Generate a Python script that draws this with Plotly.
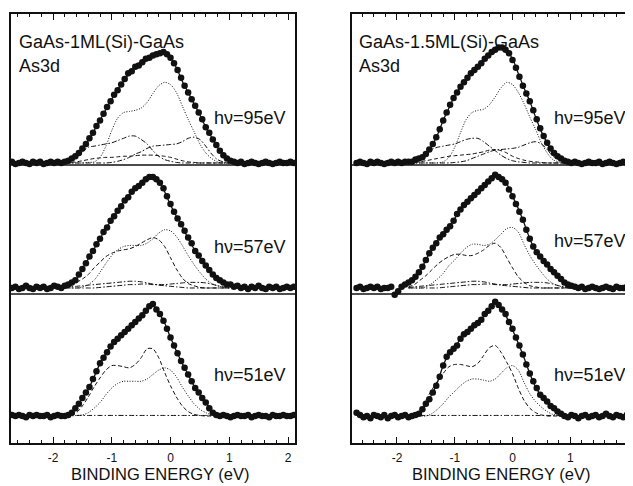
import plotly.graph_objects as go

# ---------------- data ----------------
# energy grids (eV)
E_COMP = [round(-1.8 + 0.1 * i, 1) for i in range(29)]    # fit / component grid
E_DOTS = [round(-2.70 + 0.06 * i, 2) for i in range(81)]  # measured points grid

PANELS = ["GaAs-1ML(Si)-GaAs", "GaAs-1.5ML(Si)-GaAs"]
CORE = "As3d"
PHOTON = ["hν=95eV", "hν=57eV", "hν=51eV"]
TICK_VALS = [-2, -1, 0, 1, 2]
TICK_TEXT = ["-2", "-1", "0", "1", "2"]
X_TITLE = "BINDING ENERGY (eV)"

# ---- left panel, 95 eV ----
L95_dots = [0.01, -0.01, 0.00, 0.01, 0.00, -0.01, 0.01, 0.00, 0.01, -0.01, 0.00, 0.01, 0.00, 0.01, 0.00,
            0.01, 0.02, 0.04, 0.06, 0.09, 0.13, 0.17, 0.22, 0.27, 0.33, 0.38, 0.44, 0.50, 0.55, 0.61, 0.65,
            0.70, 0.75, 0.80, 0.82, 0.86, 0.87, 0.90, 0.93, 0.94, 0.96, 0.97, 0.98, 0.99, 0.97, 0.94, 0.89,
            0.83, 0.76, 0.69, 0.63, 0.57, 0.51, 0.45, 0.39, 0.32, 0.27, 0.21, 0.16, 0.11, 0.07, 0.04, 0.02, 0.01,
            0.00, 0.01, -0.01, 0.00, 0.01, 0.00, -0.01, 0.00, 0.01, 0.00, -0.01, 0.00, 0.01, 0.00, 0.00, 0.01, 0.00]
L95_fit = [0.01, 0.03, 0.07, 0.13, 0.20, 0.29, 0.38, 0.48, 0.57, 0.65, 0.73, 0.80, 0.86, 0.90, 0.93, 0.96,
           0.98, 0.985, 0.94, 0.85, 0.73, 0.63, 0.53, 0.43, 0.32, 0.23, 0.14, 0.07, 0.03]
L95_dotted = [0, 0, 0, 0, 0.005, 0.01, 0.05, 0.15, 0.29, 0.40, 0.45, 0.46, 0.47, 0.49, 0.54, 0.62, 0.69, 0.72,
              0.70, 0.63, 0.51, 0.39, 0.28, 0.17, 0.09, 0.04, 0.01, 0, 0]
L95_dashdot_a = [0, 0.02, 0.06, 0.10, 0.14, 0.15, 0.16, 0.17, 0.18, 0.20, 0.22, 0.24, 0.24, 0.21, 0.17, 0.11,
                 0.06, 0.03, 0.015, 0.005, 0, 0, 0, 0, 0, 0, 0, 0, 0]
L95_dashdot_b = [0, 0, 0, 0, 0, 0, 0, 0, 0.005, 0.015, 0.03, 0.05, 0.08, 0.10, 0.13, 0.15, 0.155, 0.16, 0.165,
                 0.17, 0.19, 0.22, 0.23, 0.21, 0.15, 0.08, 0.03, 0.01, 0]
L95_dashed = [0, 0.005, 0.01, 0.02, 0.03, 0.04, 0.045, 0.05, 0.05, 0.055, 0.06, 0.06, 0.065, 0.07, 0.07, 0.07,
              0.065, 0.06, 0.05, 0.035, 0.02, 0.01, 0.005, 0, 0, 0, 0, 0, 0]

# ---- left panel, 57 eV ----
L57_dots = [0.00, 0.01, -0.01, 0.00, 0.02, 0.00, -0.01, 0.01, 0.00, 0.01, -0.01, 0.00, 0.02, 0.01, 0.00,
            0.02, 0.03, 0.05, 0.07, 0.12, 0.17, 0.22, 0.28, 0.33, 0.39, 0.44, 0.50, 0.54, 0.60, 0.64, 0.69,
            0.73, 0.78, 0.81, 0.86, 0.89, 0.91, 0.94, 0.97, 0.99, 0.99, 0.97, 0.94, 0.89, 0.82, 0.75, 0.68,
            0.62, 0.57, 0.51, 0.45, 0.40, 0.33, 0.29, 0.24, 0.20, 0.16, 0.12, 0.09, 0.07, 0.05, 0.03, 0.03, 0.01,
            0.02, 0.00, 0.01, -0.01, 0.01, 0.00, 0.02, 0.00, -0.01, 0.01, 0.00, 0.01, -0.01, 0.00, 0.01, 0.00, 0.01]
L57_fit = [0.02, 0.04, 0.08, 0.17, 0.26, 0.35, 0.44, 0.53, 0.61, 0.69, 0.77, 0.83, 0.89, 0.93, 0.97, 0.99,
           0.95, 0.86, 0.74, 0.64, 0.55, 0.44, 0.35, 0.27, 0.19, 0.13, 0.08, 0.05, 0.03]
L57_dotted = [0, 0, 0, 0.01, 0.03, 0.07, 0.14, 0.22, 0.29, 0.34, 0.37, 0.38, 0.38, 0.38, 0.40, 0.44, 0.49, 0.52,
              0.51, 0.46, 0.38, 0.29, 0.21, 0.14, 0.08, 0.04, 0.02, 0.005, 0]
L57_dashed = [0.005, 0.02, 0.05, 0.08, 0.12, 0.18, 0.23, 0.28, 0.31, 0.33, 0.34, 0.35, 0.37, 0.40, 0.43, 0.45,
              0.43, 0.37, 0.27, 0.17, 0.09, 0.04, 0.02, 0.005, 0, 0, 0, 0, 0]
L57_dashdot_a = [0, 0.01, 0.015, 0.02, 0.025, 0.03, 0.035, 0.04, 0.045, 0.05, 0.055, 0.06, 0.06, 0.055, 0.045,
                 0.035, 0.025, 0.02, 0.015, 0.01, 0.005, 0, 0, 0, 0, 0, 0, 0, 0]
L57_dashdot_b = [0, 0, 0, 0, 0, 0, 0.005, 0.01, 0.015, 0.02, 0.025, 0.03, 0.03, 0.035, 0.035, 0.03, 0.03, 0.03,
                 0.035, 0.04, 0.045, 0.05, 0.05, 0.05, 0.045, 0.035, 0.02, 0.01, 0]

# ---- left panel, 51 eV ----
L51_dots = [0.01, 0.00, 0.01, 0.00, -0.01, 0.01, 0.00, 0.01, 0.00, 0.00, 0.01, -0.01, 0.00, 0.01, 0.00,
            0.00, 0.01, 0.03, 0.07, 0.11, 0.16, 0.21, 0.26, 0.33, 0.40, 0.47, 0.52, 0.57, 0.62, 0.66, 0.69,
            0.72, 0.75, 0.78, 0.81, 0.84, 0.87, 0.90, 0.94, 0.98, 1.00, 0.95, 0.91, 0.85, 0.78, 0.70, 0.63,
            0.56, 0.49, 0.43, 0.37, 0.31, 0.25, 0.21, 0.16, 0.12, 0.07, 0.03, 0.01,
            0.00, 0.01, 0.00, -0.01, 0.00, 0.01, 0.00, 0.00, 0.01, -0.01, 0.00, 0.01, 0.00, 0.00, -0.01, 0.01,
            0.00, 0.00, 0.01, 0.00, 0.00, 0.01]
L51_fit = [0.0, 0.02, 0.08, 0.16, 0.24, 0.35, 0.47, 0.56, 0.63, 0.69, 0.74, 0.79, 0.84, 0.89, 0.95, 0.99,
           0.92, 0.83, 0.70, 0.58, 0.47, 0.37, 0.27, 0.19, 0.12, 0.05, 0.01, 0, 0]
L51_dashed = [0, 0.005, 0.03, 0.09, 0.17, 0.26, 0.34, 0.41, 0.45, 0.45, 0.44, 0.43, 0.46, 0.52, 0.60, 0.60,
              0.52, 0.39, 0.27, 0.17, 0.09, 0.04, 0.015, 0.005, 0, 0, 0, 0, 0]
L51_dotted = [0, 0, 0.005, 0.01, 0.03, 0.07, 0.12, 0.19, 0.25, 0.29, 0.31, 0.31, 0.31, 0.31, 0.33, 0.37, 0.41,
              0.43, 0.41, 0.35, 0.26, 0.18, 0.11, 0.06, 0.03, 0.01, 0, 0, 0]
L51_dashdot = [None, None, 0.005, 0.005, 0.005, 0.005, 0.005, 0.005, 0.005, 0.005, 0.005, 0.005, 0.005, 0.005,
               0.005, 0.005, 0.005, 0.005, 0.005, 0.005, 0.005, 0.005, 0.005, 0.005, 0.005, 0.005, None, None, None]

# ---- right panel, 95 eV ----
R95_dots = [0.00, 0.01, 0.00, -0.01, 0.01, 0.00, 0.01, 0.00, -0.01, 0.00, 0.01, 0.00, 0.01, 0.00, 0.01,
            0.01, 0.01, 0.03, 0.04, 0.05, 0.08, 0.12, 0.17, 0.23, 0.30, 0.38, 0.45, 0.52, 0.58, 0.63, 0.68,
            0.72, 0.76, 0.80, 0.83, 0.86, 0.89, 0.93, 0.96, 0.99, 1.01, 1.03, 1.03, 1.01, 0.98, 0.92, 0.85,
            0.77, 0.69, 0.62, 0.55, 0.47, 0.39, 0.31, 0.24, 0.18, 0.13, 0.09, 0.06, 0.04, 0.02, 0.01,
            0.00, 0.01, 0.00, -0.01, 0.00, 0.01, 0.00, 0.00, 0.01, -0.01, 0.00, 0.01, 0.00, -0.01, 0.00, 0.01,
            0.00, 0.00, 0.01]
R95_fit = [0.01, 0.02, 0.04, 0.08, 0.15, 0.25, 0.38, 0.49, 0.60, 0.68, 0.75, 0.81, 0.86, 0.92, 0.97, 1.01,
           1.03, 1.00, 0.93, 0.80, 0.67, 0.55, 0.41, 0.28, 0.18, 0.10, 0.05, 0.02, 0.01]
R95_dotted = [0, 0, 0, 0, 0, 0, 0.01, 0.05, 0.14, 0.27, 0.39, 0.45, 0.47, 0.48, 0.52, 0.59, 0.67, 0.72, 0.70,
              0.63, 0.53, 0.41, 0.30, 0.18, 0.09, 0.03, 0.01, 0, 0]
R95_dashdot_a = [0, 0.01, 0.03, 0.07, 0.12, 0.14, 0.15, 0.16, 0.17, 0.19, 0.21, 0.22, 0.22, 0.19, 0.15, 0.11,
                 0.07, 0.04, 0.02, 0.01, 0.005, 0, 0, 0, 0, 0, 0, 0, 0]
R95_dashdot_b = [0, 0, 0, 0, 0, 0, 0, 0, 0.005, 0.01, 0.02, 0.04, 0.06, 0.08, 0.10, 0.115, 0.12, 0.125, 0.13,
                 0.14, 0.16, 0.18, 0.19, 0.17, 0.12, 0.06, 0.03, 0.01, 0]
R95_dashed = [0, 0.005, 0.01, 0.02, 0.03, 0.04, 0.05, 0.06, 0.065, 0.07, 0.075, 0.08, 0.09, 0.10, 0.115, 0.12,
              0.11, 0.09, 0.06, 0.04, 0.025, 0.015, 0.01, 0.005, 0, 0, 0, 0, 0]

# ---- right panel, 57 eV ----
R57_dots = [0.00, 0.01, -0.01, 0.00, 0.01, 0.00, 0.01, -0.01, 0.00, 0.00, 0.01, -0.06, -0.03, 0.01, 0.03,
            0.05, 0.07, 0.10, 0.14, 0.19, 0.25, 0.31, 0.36, 0.40, 0.45, 0.48, 0.52, 0.55, 0.60, 0.66, 0.70,
            0.74, 0.77, 0.80, 0.83, 0.86, 0.89, 0.92, 0.95, 0.98, 1.01, 0.99, 0.97, 0.94, 0.88, 0.82, 0.75,
            0.68, 0.61, 0.52, 0.44, 0.37, 0.32, 0.28, 0.24, 0.21, 0.17, 0.14, 0.11, 0.08, 0.05, 0.03, 0.02,
            0.01, 0.00, 0.01, -0.01, 0.00, 0.01, 0.00, -0.01, 0.00, 0.01, 0.00, -0.01, 0.01, 0.00, 0.00, 0.01,
            -0.01, 0.00]
R57_fit = [0.05, 0.09, 0.15, 0.25, 0.34, 0.42, 0.48, 0.54, 0.62, 0.70, 0.76, 0.81, 0.86, 0.91, 0.96, 1.00,
           0.98, 0.93, 0.82, 0.71, 0.58, 0.44, 0.33, 0.26, 0.21, 0.15, 0.10, 0.06, 0.03]
R57_dotted = [0, 0, 0, 0.01, 0.04, 0.08, 0.13, 0.20, 0.25, 0.31, 0.36, 0.39, 0.39, 0.38, 0.39, 0.43, 0.48, 0.53,
              0.54, 0.50, 0.39, 0.29, 0.21, 0.14, 0.08, 0.04, 0.02, 0.005, 0]
R57_dashed = [0.01, 0.03, 0.07, 0.11, 0.16, 0.21, 0.25, 0.28, 0.30, 0.30, 0.29, 0.29, 0.31, 0.34, 0.38, 0.40,
              0.36, 0.27, 0.18, 0.10, 0.05, 0.02, 0.01, 0, 0, 0, 0, 0, 0]
R57_dashdot_a = [0.005, 0.01, 0.015, 0.02, 0.025, 0.03, 0.035, 0.04, 0.045, 0.05, 0.055, 0.06, 0.06, 0.055,
                 0.045, 0.035, 0.025, 0.02, 0.015, 0.01, 0.005, 0, 0, 0, 0, 0, 0, 0, 0]
R57_dashdot_b = [0, 0, 0, 0, 0, 0, 0.005, 0.01, 0.015, 0.02, 0.025, 0.03, 0.03, 0.035, 0.035, 0.03, 0.03, 0.03,
                 0.035, 0.04, 0.045, 0.05, 0.05, 0.05, 0.045, 0.035, 0.02, 0.01, 0]

# ---- right panel, 51 eV ----
R51_dots = [0.03, 0.01, -0.01, 0.00, -0.02, 0.01, 0.00, -0.01, 0.01, -0.02, 0.00, 0.01, -0.01, 0.00, 0.01,
            -0.01, 0.00, 0.01, 0.02, 0.06, 0.11, 0.15, 0.21, 0.27, 0.35, 0.45, 0.53, 0.57, 0.60, 0.63, 0.69,
            0.73, 0.75, 0.78, 0.81, 0.83, 0.86, 0.91, 0.94, 0.98, 1.02, 0.99, 0.95, 0.91, 0.84, 0.78, 0.70,
            0.63, 0.55, 0.46, 0.38, 0.31, 0.25, 0.19, 0.16, 0.13, 0.09, 0.07, 0.04, 0.02, 0.00,
            -0.01, 0.01, 0.00, -0.02, 0.00, 0.01, -0.01, 0.00, 0.01, -0.01, 0.00, 0.02, 0.00, -0.01, 0.01, 0.00,
            -0.01, 0.01, 0.00, 0.01]
R51_fit = [0, 0, 0.02, 0.11, 0.19, 0.30, 0.45, 0.56, 0.61, 0.69, 0.75, 0.79, 0.83, 0.89, 0.96, 1.01, 0.96,
           0.88, 0.77, 0.65, 0.52, 0.38, 0.26, 0.18, 0.12, 0.07, 0.03, 0.01, 0]
R51_dashed = [0, 0, 0.03, 0.14, 0.23, 0.31, 0.38, 0.44, 0.46, 0.46, 0.45, 0.44, 0.47, 0.54, 0.61, 0.63, 0.57,
              0.48, 0.38, 0.25, 0.14, 0.07, 0.03, 0.01, 0, 0, 0, 0, 0]
R51_dotted = [0, 0, 0, 0, 0.02, 0.06, 0.11, 0.17, 0.22, 0.27, 0.31, 0.33, 0.33, 0.32, 0.31, 0.33, 0.38, 0.43,
              0.45, 0.41, 0.30, 0.20, 0.13, 0.08, 0.04, 0.015, 0.005, 0, 0]
R51_dashdot = [None, None, 0.005, 0.005, 0.005, 0.005, 0.005, 0.005, 0.005, 0.005, 0.005, 0.005, 0.005, 0.005,
               0.005, 0.005, 0.005, 0.005, 0.005, 0.005, 0.005, 0.005, 0.005, 0.005, 0.005, 0.005, 0.005,
               None, None]

# ---------------- layout constants (styles / positions) ----------------
# the page body keeps an 8 px margin, so the figure is drawn 8 px smaller and
# every target pixel position is converted with that offset
PAGE_W, PAGE_H, BODY = 633, 486, 8
W, H = PAGE_W - BODY, PAGE_H - BODY
FONT = "Liberation Sans, Arial, Helvetica, sans-serif"
INK = "#111111"
OFFSET = {"95": 2.5, "57": 1.384, "51": 0.241}   # vertical stacking of the spectra
SEPARATORS = [2.482, 1.330]
YMAX = 3.83

def fx(x):
    return (x - BODY) / W

def fy(y):
    return 1 - (y - BODY) / H

STYLE = {
    "dotted": dict(dash="1px,1.6px", width=1.0),
    "dashed": dict(dash="4px,2.5px", width=1.0),
    "dashdot": dict(dash="5px,2px,1.5px,2px", width=1.0),
}

spectra = {
    "L": [
        ("95", L95_dots, L95_fit, [("dotted", L95_dotted), ("dashdot", L95_dashdot_a),
                                   ("dashdot", L95_dashdot_b), ("dashed", L95_dashed)]),
        ("57", L57_dots, L57_fit, [("dotted", L57_dotted), ("dashed", L57_dashed),
                                   ("dashdot", L57_dashdot_a), ("dashdot", L57_dashdot_b)]),
        ("51", L51_dots, L51_fit, [("dashed", L51_dashed), ("dotted", L51_dotted),
                                   ("dashdot", L51_dashdot)]),
    ],
    "R": [
        ("95", R95_dots, R95_fit, [("dotted", R95_dotted), ("dashdot", R95_dashdot_a),
                                   ("dashdot", R95_dashdot_b), ("dashed", R95_dashed)]),
        ("57", R57_dots, R57_fit, [("dotted", R57_dotted), ("dashed", R57_dashed),
                                   ("dashdot", R57_dashdot_a), ("dashdot", R57_dashdot_b)]),
        ("51", R51_dots, R51_fit, [("dashed", R51_dashed), ("dotted", R51_dotted),
                                   ("dashdot", R51_dashdot)]),
    ],
}

fig = go.Figure()
for side, (xa, ya) in {"L": ("x", "y"), "R": ("x2", "y2")}.items():
    for key, dots, fit, comps in spectra[side]:
        assert len(dots) == len(E_DOTS), (side, key, len(dots))
        assert len(fit) == len(E_COMP), (side, key, "fit", len(fit))
        off = OFFSET[key]
        for style, vals in comps:
            assert len(vals) == len(E_COMP), (side, key, style, len(vals))
            fig.add_trace(go.Scatter(
                x=E_COMP, y=[None if v is None else v + off for v in vals],
                mode="lines", line=dict(color=INK, shape="spline", smoothing=0.8, **STYLE[style]),
                xaxis=xa, yaxis=ya, showlegend=False, hoverinfo="skip", connectgaps=False))
        fig.add_trace(go.Scatter(
            x=E_COMP, y=[v + off for v in fit], mode="lines",
            line=dict(color=INK, width=1.3, shape="spline", smoothing=0.8),
            xaxis=xa, yaxis=ya, showlegend=False, hoverinfo="skip"))
        fig.add_trace(go.Scatter(
            x=E_DOTS, y=[v + off for v in dots], mode="markers",
            marker=dict(color=INK, size=6.5, line=dict(width=0)),
            xaxis=xa, yaxis=ya, showlegend=False, hoverinfo="skip"))

minor_vals = [round(-2.6 + 0.2 * i, 1) for i in range(24)]
minor_vals = [v for v in minor_vals if abs(v - round(v)) > 1e-6]

def xaxis_cfg(domain, rng, anchor):
    return dict(domain=domain, range=rng, anchor=anchor, showgrid=False, zeroline=False,
                showline=True, linecolor=INK, linewidth=1.5, mirror="ticks",
                ticks="inside", ticklen=6, tickwidth=1.2, tickcolor=INK,
                tickmode="array", tickvals=TICK_VALS, ticktext=TICK_TEXT,
                tickfont=dict(family=FONT, size=12, color=INK), ticklabelstandoff=3,
                minor=dict(tickmode="array", tickvals=minor_vals, ticks="inside",
                           ticklen=3, tickwidth=1, tickcolor=INK, showgrid=False))

def yaxis_cfg(anchor, mirror):
    return dict(domain=[fy(443), fy(14)], range=[0, YMAX], anchor=anchor,
                showgrid=False, zeroline=False, showticklabels=False, ticks="",
                showline=True, linecolor=INK, linewidth=1.5, mirror=mirror)

fig.update_layout(
    width=W, height=H, margin=dict(l=0, r=0, t=0, b=0),
    paper_bgcolor="white", plot_bgcolor="white",
    xaxis=xaxis_cfg([fx(11), fx(295)], [-2.715, 2.119], "y"),
    yaxis=yaxis_cfg("x", True),
    xaxis2=xaxis_cfg([fx(352), 1.0], [-2.779, 2.087], "y2"),
    yaxis2=yaxis_cfg("x2", False),
)

shapes = []
for xr, yr in (("x domain", "y"), ("x2 domain", "y2")):
    for s in SEPARATORS:
        shapes.append(dict(type="line", xref=xr, yref=yr, x0=0, x1=1, y0=s, y1=s,
                           line=dict(color=INK, width=1.5)))
fig.update_layout(shapes=shapes)

ann = []
def add_text(text, x, y, size=18, xanchor="left"):
    ann.append(dict(text=text, x=fx(x), y=fy(y), xref="paper", yref="paper", showarrow=False,
                    xanchor=xanchor, yanchor="middle", font=dict(family=FONT, size=size, color=INK)))

add_text(PANELS[0], 17, 42)
add_text(CORE, 17, 66)
add_text(PHOTON[0], 212, 118)
add_text(PHOTON[1], 212, 247)
add_text(PHOTON[2], 212, 375)
add_text(PANELS[1], 357, 42)
add_text(CORE, 357, 66)
add_text(PHOTON[0], 552, 118)
add_text(PHOTON[1], 552, 241)
add_text(PHOTON[2], 552, 375)
add_text(X_TITLE, 160, 474, size=16.5, xanchor="center")
add_text(X_TITLE, 501, 474, size=16.5, xanchor="center")
fig.update_layout(annotations=ann)

fig.write_html("out.html")
